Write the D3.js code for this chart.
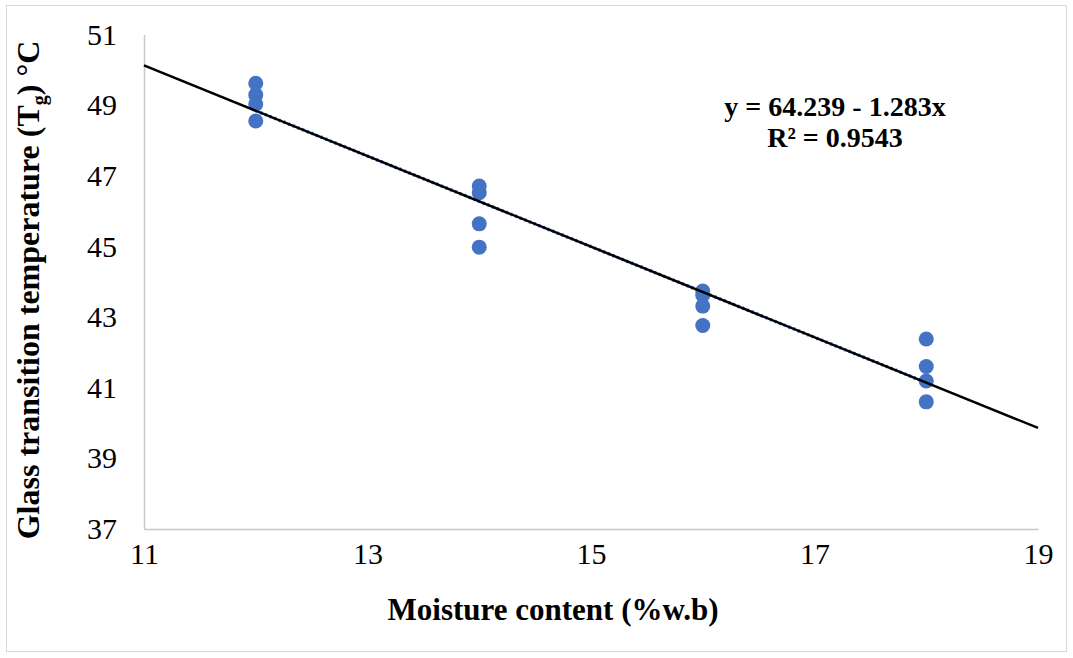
<!DOCTYPE html>
<html>
<head>
<meta charset="utf-8">
<script src="https://cdn.jsdelivr.net/npm/d3@7"></script>
<style>
  body { margin: 0; background: #fff; }
  svg { display: block; font-family: "Liberation Serif", "Times New Roman", serif; }
</style>
</head>
<body>
<svg width="1073" height="658"></svg>
<script>
// moisture content (%w.b) for each measurement
var moisture = [12, 12, 12, 12, 14, 14, 14, 14, 16, 16, 16, 16, 18, 18, 18, 18];
// glass transition temperature (deg C)
var tg = [49.62, 49.29, 49.03, 48.55, 46.71, 46.52, 45.64, 44.98, 43.74, 43.62, 43.31, 42.76, 42.38, 41.60, 41.19, 40.60];

var xTicks = [11, 13, 15, 17, 19];
var yTicks = [37, 39, 41, 43, 45, 47, 49, 51];

// linear fit shown on chart
var intercept = 64.239, slope = -1.283, r2 = 0.9543;

var svg = d3.select("svg"),
    width = +svg.attr("width"),
    height = +svg.attr("height");

var plotL = 144, plotR = 1038, plotT = 34.5, plotB = 529;

var x = d3.scaleLinear().domain([11, 19]).range([plotL, plotR]);
var y = d3.scaleLinear().domain([37, 51]).range([plotB, plotT]);

// chart border
svg.append("rect")
    .attr("x", 6.5).attr("y", 5.5)
    .attr("width", 1060).attr("height", 646)
    .attr("fill", "none")
    .attr("stroke", "#d9d9d9")
    .attr("stroke-width", 1);

// axes
var xAxis = svg.append("g")
    .attr("transform", "translate(0," + plotB + ")")
    .call(d3.axisBottom(x).tickValues(xTicks).tickSize(0).tickPadding(14).tickFormat(d3.format("d")));

var yAxis = svg.append("g")
    .attr("transform", "translate(" + plotL + ",0)")
    .call(d3.axisLeft(y).tickValues(yTicks).tickSize(0).tickPadding(27).tickFormat(d3.format("d")));

[xAxis, yAxis].forEach(function(g) {
    g.select(".domain").attr("stroke", "#c8c8c8").attr("stroke-width", 1.5);
    g.selectAll("text")
        .attr("font-family", "Liberation Serif, Times New Roman, serif")
        .attr("font-size", 30)
        .attr("fill", "#000");
});
xAxis.selectAll("text").attr("dy", "0.71em");

// points
svg.append("g")
    .selectAll("circle")
    .data(moisture.map(function(m, i) { return { m: m, t: tg[i] }; }))
    .enter().append("circle")
    .attr("cx", function(d) { return x(d.m); })
    .attr("cy", function(d) { return y(d.t); })
    .attr("r", 7.5)
    .attr("fill", "#4472c4");

// excel trendline (dotted blue) under the black fit line
var fit = function(v) { return intercept + slope * v; };
var ext = d3.extent(moisture);
svg.append("line")
    .attr("x1", x(ext[0])).attr("y1", y(fit(ext[0])))
    .attr("x2", x(ext[1])).attr("y2", y(fit(ext[1])))
    .attr("stroke", "#4472c4")
    .attr("stroke-width", 3.5)
    .attr("stroke-dasharray", "2,3");

svg.append("line")
    .attr("x1", x(11)).attr("y1", y(fit(11)))
    .attr("x2", x(19)).attr("y2", y(fit(19)))
    .attr("stroke", "#000")
    .attr("stroke-width", 2.5);

// equation
var eq = svg.append("g")
    .attr("font-weight", "bold")
    .attr("font-size", 28)
    .attr("text-anchor", "middle");
eq.append("text")
    .attr("x", 835).attr("y", 116)
    .text("y = " + intercept.toFixed(3) + " - " + Math.abs(slope).toFixed(3) + "x");
eq.append("text")
    .attr("x", 835).attr("y", 147)
    .text("R\u00b2 = " + r2);

// axis titles
svg.append("text")
    .attr("x", 553)
    .attr("y", 620)
    .attr("text-anchor", "middle")
    .attr("font-weight", "bold")
    .attr("font-size", 31)
    .text("Moisture content (%w.b)");

var yt = svg.append("text")
    .attr("transform", "translate(39,290) rotate(-90)")
    .attr("text-anchor", "middle")
    .attr("font-weight", "bold")
    .attr("font-size", 32);
yt.append("tspan").text("Glass transition temperature (T");
yt.append("tspan").attr("font-size", 20).attr("dy", 7).text("g");
yt.append("tspan").attr("dy", -7).text(") \u00b0C");
</script>
</body>
</html>
